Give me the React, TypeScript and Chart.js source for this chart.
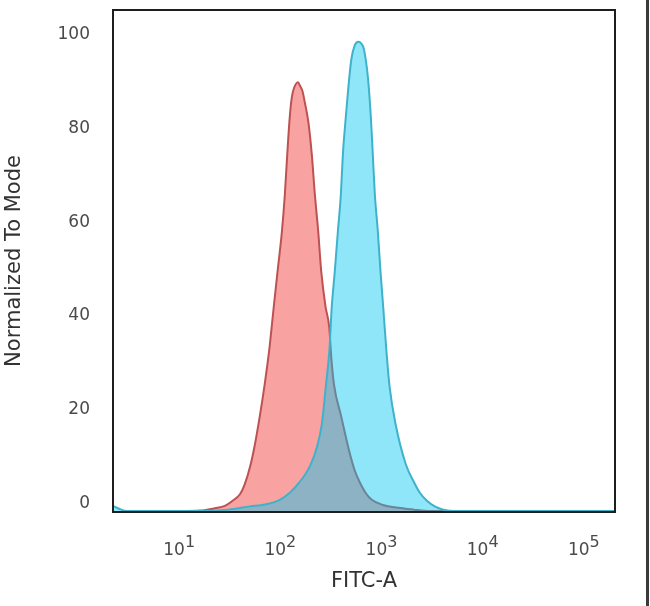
import React, { useEffect, useRef } from 'react';
import { Chart, registerables } from 'chart.js';

Chart.register(...registerables);

// Axis ticks
const xTickExponents = [1, 2, 3, 4, 5];
const yTickValues = [0, 20, 40, 60, 80, 100];

// Red histogram (isotype / control)
const redX = [10, 15.8, 22.2, 27.8, 32.7, 39.2, 43.5, 50.1, 55.1, 61.8, 68.4, 76.6, 84.2, 92.5, 101.9, 109, 115, 122, 128, 134, 147, 153.5, 162.6, 172, 182.4, 188.4, 201.4, 215.6, 233, 249, 275, 299, 314, 333, 394, 468, 536, 601, 689, 789, 1014, 1330, 2050, 2951, 10000];
const redY = [-1.6, -1.5, -1.0, -0.5, 0.5, 2.0, 4.0, 8.4, 12.6, 18.8, 25, 33, 41.5, 49.7, 58, 66, 74.4, 82.6, 86.8, 88.6, 89.9, 89.2, 88.0, 85.5, 82.6, 80.5, 74.4, 66, 58, 49.7, 42, 37.7, 31, 25.5, 18.5, 11.5, 7, 4.5, 2.2, 0.8, -0.3, -0.8, -1.3, -1.6, -1.6];

// Blue histogram (stained sample)
const blueX = [2.18, 2.5, 3.0, 15.8, 30, 49.2, 69.2, 97, 122, 150, 193, 226, 253, 277, 301, 316, 340, 364, 390, 408, 437, 473, 497, 536, 582, 629, 658, 721, 771, 807, 845, 905, 960, 1026, 1096, 1181, 1362, 1710, 2080, 2355, 2762, 3311, 4027, 5212, 200000];
const blueY = [-0.5, -1.1, -1.6, -1.6, -1.3, -0.6, -0.2, 0.8, 2.3, 4.4, 8, 12, 17, 25, 33, 41.5, 49.7, 58, 66, 74.4, 82.6, 91, 95, 97.8, 98.5, 98, 97, 91, 82.6, 74.4, 66, 58, 49.7, 41.5, 33, 25, 16.7, 8.4, 4.4, 2.3, 0.6, -0.6, -1.3, -1.6, -1.6];

const FONT = '"DejaVu Sans", Verdana, sans-serif';

export default function App() {
  const ref = useRef<HTMLCanvasElement>(null);

  useEffect(() => {
    if (!ref.current) return;

    const framePlugin = {
      id: 'frameAndLabels',
      afterDraw(chart: any) {
        const { ctx, chartArea: a, scales } = chart;
        ctx.save();
        ctx.strokeStyle = '#1e1e1e';
        ctx.lineWidth = 2;
        ctx.strokeRect(a.left, a.top, a.right - a.left, a.bottom - a.top);

        ctx.fillStyle = '#4a4a4a';
        ctx.textBaseline = 'alphabetic';
        xTickExponents.forEach((e) => {
          const px = scales.x.getPixelForValue(Math.pow(10, e));
          ctx.font = '17px ' + FONT;
          ctx.textAlign = 'right';
          ctx.fillText('10', px + 5, a.bottom + 43);
          ctx.font = '16px ' + FONT;
          ctx.textAlign = 'left';
          ctx.fillText(String(e), px + 5, a.bottom + 35);
        });

        ctx.fillStyle = '#3a3a3a';
        ctx.fillRect(646, 0, 3, chart.height);
        ctx.restore();
      },
    };

    const chart = new Chart(ref.current, {
      type: 'line',
      data: {
        datasets: [
          {
            label: 'Stained',
            data: blueX.map((x, i) => ({ x, y: blueY[i] })),
            borderColor: '#3fb2cb',
            backgroundColor: 'rgba(0,199,239,0.44)',
            borderWidth: 2,
            pointRadius: 0,
            fill: 'start',
            cubicInterpolationMode: 'monotone',
            order: 0,
          },
          {
            label: 'Control',
            data: redX.map((x, i) => ({ x, y: redY[i] })),
            borderColor: '#bd5252',
            backgroundColor: '#f9a2a2',
            borderWidth: 2,
            pointRadius: 0,
            fill: 'start',
            cubicInterpolationMode: 'monotone',
            order: 1,
          },
        ],
      },
      options: {
        animation: false,
        responsive: false,
        maintainAspectRatio: false,
        layout: { padding: { top: 10, right: 35, left: 0, bottom: 0 } },
        plugins: {
          legend: { display: false },
          tooltip: { enabled: false },
        },
        scales: {
          x: {
            type: 'logarithmic',
            min: 2.18,
            max: 200000,
            grid: { display: false, drawTicks: false },
            border: { display: false },
            ticks: { display: false },
            title: {
              display: true,
              text: 'FITC-A',
              color: '#333333',
              font: { family: FONT, size: 21 },
              padding: { top: 0, bottom: 12 },
            },
            afterFit: (scale: any) => {
              scale.height = 94;
              scale.paddingLeft = 0;
              scale.paddingRight = 0;
            },
          },
          y: {
            type: 'linear',
            min: -1.8,
            max: 105.3,
            grid: { display: false, drawTicks: false },
            border: { display: false },
            ticks: {
              includeBounds: false,
              stepSize: 20,
              padding: 23,
              color: '#4a4a4a',
              font: { family: FONT, size: 17 },
              callback: (v: any) => (yTickValues.includes(Number(v)) ? String(v) : ''),
            },
            title: {
              display: true,
              text: 'Normalized To Mode',
              color: '#333333',
              font: { family: FONT, size: 21 },
              padding: { top: 2, bottom: 0 },
            },
            afterFit: (scale: any) => {
              scale.width = 113;
              scale.paddingTop = 0;
              scale.paddingBottom = 0;
            },
          },
        },
      },
      plugins: [framePlugin],
    });

    return () => chart.destroy();
  }, []);

  return (
    <div style={{ position: 'absolute', left: 0, top: 0, width: 650, height: 606, background: '#fff' }}>
      <canvas ref={ref} width={650} height={606} />
    </div>
  );
}
